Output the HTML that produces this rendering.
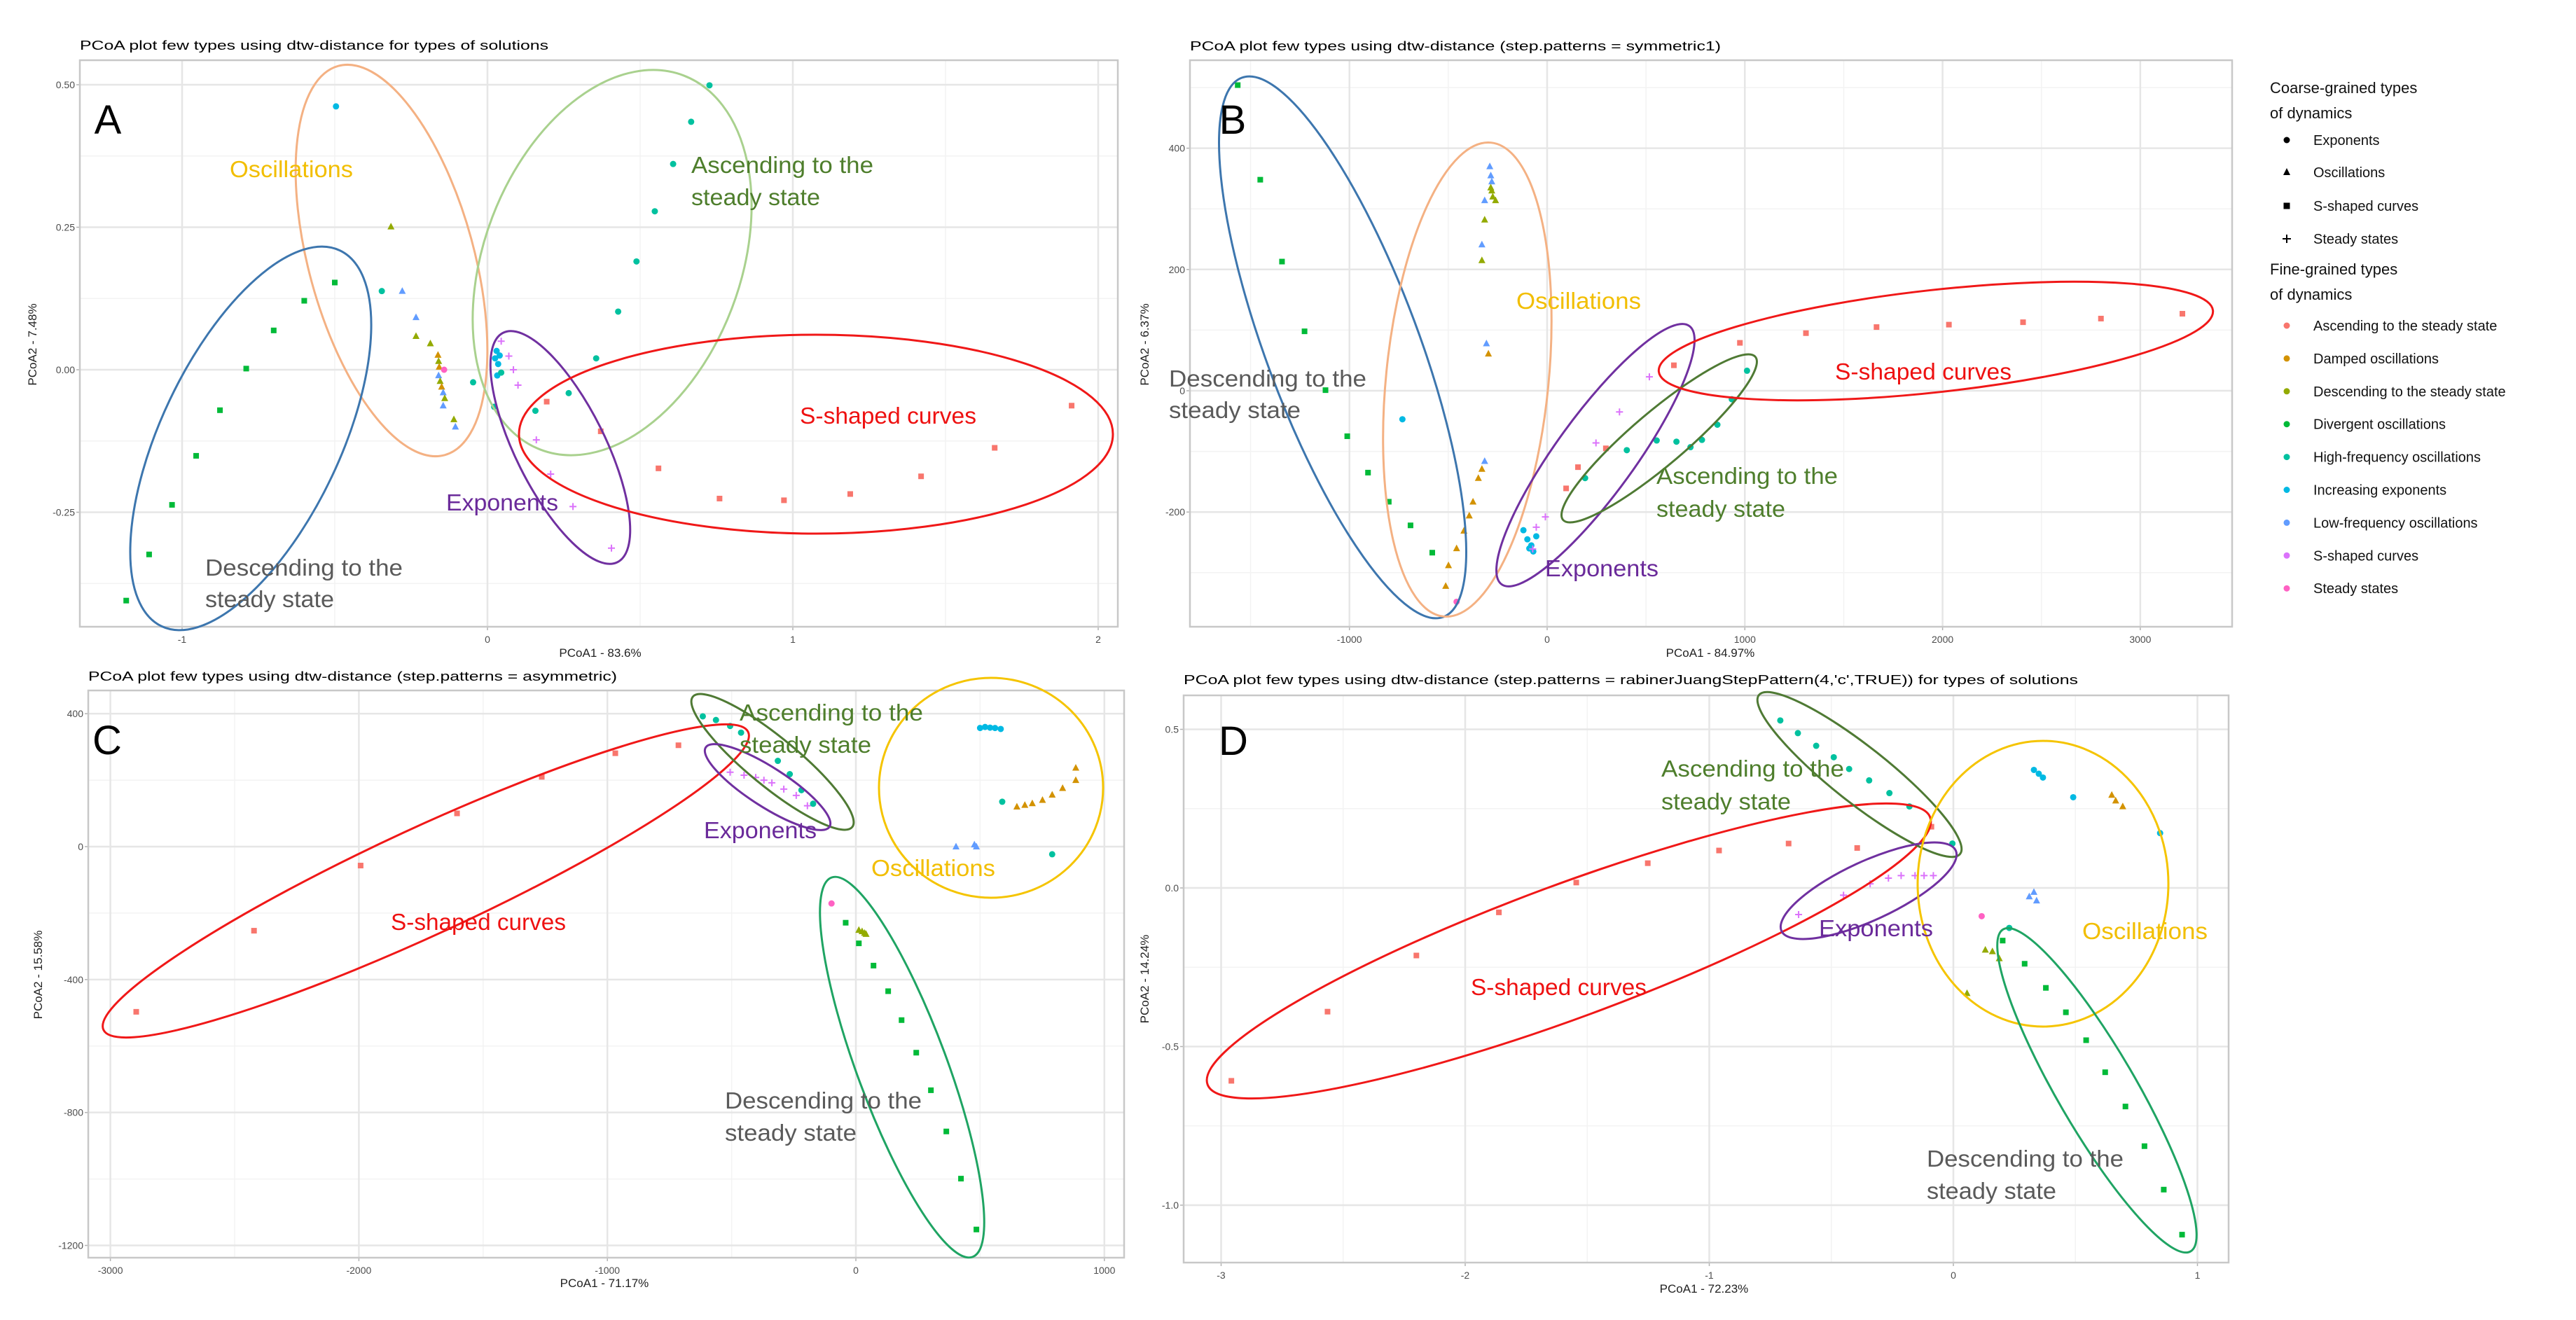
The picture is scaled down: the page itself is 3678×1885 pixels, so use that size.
<!DOCTYPE html>
<html><head><meta charset="utf-8"><style>
html,body{margin:0;padding:0;background:#fff;}
svg{display:block;font-family:"Liberation Sans",sans-serif;}
</style></head><body>
<svg id="fig" xmlns="http://www.w3.org/2000/svg" width="3678" height="1885" viewBox="0 0 3678 1885">
<rect x="0" y="0" width="3678" height="1885" fill="#fff"/>
</svg>
<script>
// ---- data ----
const catNames=["Ascending to the steady state","Damped oscillations","Descending to the steady state","Divergent oscillations","High-frequency oscillations","Increasing exponents","Low-frequency oscillations","S-shaped curves","Steady states"];
const catColors=["#F8766D","#D39200","#93AA00","#00BA38","#00C19F","#00B9E3","#619CFF","#DB72FB","#FF61C3"];
const coarseNames=["Exponents","Oscillations","S-shaped curves","Steady states"];

const aX=[-0.50,-0.60,-0.70,-0.79,-0.876,-0.954,-1.033,-1.108,-1.183,0.727,0.667,0.608,0.548,0.488,0.428,0.356,0.266,0.157,0.022,-0.047,-0.496,0.03,0.025,0.035,0.04,0.032,0.045,1.913,1.661,1.42,1.188,0.971,0.76,0.56,0.371,0.194,0.045,0.07,0.085,0.10,0.16,0.207,0.28,0.406,-0.316,-0.279,-0.346,-0.234,-0.234,-0.187,-0.162,-0.16,-0.158,-0.16,-0.155,-0.15,-0.145,-0.14,-0.145,-0.11,-0.105,-0.142];
const aY=[0.153,0.121,0.069,0.002,-0.071,-0.151,-0.237,-0.324,-0.405,0.499,0.435,0.361,0.278,0.19,0.102,0.02,-0.041,-0.072,-0.065,-0.022,0.462,0.033,0.02,0.01,0.025,-0.01,-0.005,-0.063,-0.137,-0.187,-0.218,-0.229,-0.226,-0.173,-0.108,-0.056,0.05,0.024,0,-0.027,-0.123,-0.183,-0.24,-0.313,0.251,0.138,0.138,0.092,0.059,0.046,0.026,0.015,0.005,-0.01,-0.02,-0.03,-0.04,-0.05,-0.063,-0.087,-0.1,0];
const aC=[3,3,3,3,3,3,3,3,3,4,4,4,4,4,4,4,4,4,4,4,5,5,5,5,5,5,4,0,0,0,0,0,0,0,0,0,7,7,7,7,7,7,7,7,2,6,4,6,2,2,1,2,1,6,2,1,6,2,6,2,6,8];

const bX=[-1565,-1451,-1341,-1227,-1121,-1011,-906,-801,-691,-581,-458,-513,-499,-458,-421,-394,-375,-348,-330,-297,-316,-307,-330,-316,-290,-285,-280,-330,-316,-261,-280,-275,-285,-732,-120,-100,-80,-70,-55,-90,192,403,554,654,725,783,861,934,1011,3213,2801,2407,2032,1666,1309,975,641,297,156,96,517,366,247,-9,-55,-73];
const bY=[504,348,213,98,1,-75,-135,-183,-222,-267,-348,-322,-288,-260,-231,-206,-183,-144,-129,61,-116,78,241,314,370,355,345,215,282,314,330,320,335,-47,-230,-245,-255,-265,-240,-260,-144,-98,-82,-84,-93,-81,-56,-14,33,127,119,113,109,105,95,79,42,-95,-126,-161,23,-35,-86,-208,-225,-261];
const bC=[3,3,3,3,3,3,3,3,3,3,8,1,1,1,1,1,1,1,1,1,6,6,6,6,6,6,6,2,2,2,2,2,2,5,5,5,5,5,5,5,4,4,4,4,4,4,4,4,4,0,0,0,0,0,0,0,0,0,0,0,7,7,7,7,7,7];

const cX=[-2896,-2422,-1993,-1605,-1264,-968,-714,-506,-403,-338,-290,-240,-195,-450,-370,-616,-563,-506,-462,-314,-266,-219,-172,500,520,540,560,583,648,680,710,751,790,832,885,885,589,790,403,477,485,-41,12,71,130,184,243,302,364,423,485,-98,12,25,35,41];
const cY=[-497,-253,-57,100,210,281,305,224,208,192,173,154,123,215,200,392,381,363,343,258,218,170,129,357,360,358,357,354,120,125,130,140,156,176,200,237,135,-23,0,6,0,-229,-291,-358,-435,-522,-620,-733,-857,-999,-1152,-171,-251,-255,-260,-263];
const cC=[0,0,0,0,0,0,0,7,7,7,7,7,7,7,7,4,4,4,4,4,4,4,4,5,5,5,5,5,1,1,1,1,1,1,1,1,4,4,6,6,6,3,3,3,3,3,3,3,3,3,3,8,2,2,2,2];

const dX=[-2.958,-2.564,-2.2,-1.862,-1.545,-1.252,-0.96,-0.675,-0.394,-0.09,-0.709,-0.637,-0.562,-0.49,-0.427,-0.345,-0.262,-0.18,-0.004,-0.634,-0.45,-0.341,-0.266,-0.214,-0.157,-0.12,-0.082,0.33,0.35,0.367,0.491,0.847,0.649,0.665,0.694,0.311,0.33,0.341,0.116,0.229,0.131,0.16,0.188,0.056,0.202,0.292,0.379,0.461,0.544,0.622,0.705,0.783,0.862,0.937];
const dY=[-0.608,-0.39,-0.213,-0.077,0.017,0.078,0.118,0.14,0.126,0.193,0.528,0.488,0.448,0.412,0.375,0.339,0.299,0.257,0.14,-0.084,-0.023,0.013,0.031,0.039,0.039,0.039,0.039,0.372,0.36,0.348,0.286,0.173,0.293,0.275,0.257,-0.027,-0.013,-0.04,-0.089,-0.126,-0.195,-0.2,-0.222,-0.332,-0.166,-0.239,-0.315,-0.392,-0.48,-0.581,-0.689,-0.814,-0.951,-1.093];
const dC=[0,0,0,0,0,0,0,0,0,0,4,4,4,4,4,4,4,4,4,7,7,7,7,7,7,7,7,5,5,5,5,5,1,1,1,6,6,6,8,4,2,2,2,2,3,3,3,3,3,3,3,3,3,3];

const aXTicks=[-1,0,1,2], aXLabels=["-1","0","1","2"], aXMinor=[-0.5,0.5,1.5];
const aYTicks=[0.5,0.25,0,-0.25], aYLabels=["0.50","0.25","0.00","-0.25"], aYMinor=[0.375,0.125,-0.125,-0.375];
const bXTicks=[-1000,0,1000,2000,3000], bXLabels=["-1000","0","1000","2000","3000"], bXMinor=[-1500,-500,500,1500,2500];
const bYTicks=[400,200,0,-200], bYLabels=["400","200","0","-200"], bYMinor=[500,300,100,-100,-300];
const cXTicks=[-3000,-2000,-1000,0,1000], cXLabels=["-3000","-2000","-1000","0","1000"], cXMinor=[-2500,-1500,-500,500];
const cYTicks=[400,0,-400,-800,-1200], cYLabels=["400","0","-400","-800","-1200"], cYMinor=[200,-200,-600,-1000];
const dXTicks=[-3,-2,-1,0,1], dXLabels=["-3","-2","-1","0","1"], dXMinor=[-2.5,-1.5,-0.5,0.5];
const dYTicks=[0.5,0,-0.5,-1], dYLabels=["0.5","0.0","-0.5","-1.0"], dYMinor=[0.25,-0.25,-0.75];

// ---- drawing ----
const NS="http://www.w3.org/2000/svg";
const svg=document.getElementById('fig');
function mk(tag,attrs,parent){const e=document.createElementNS(NS,tag);for(const k in attrs)e.setAttribute(k,attrs[k]);(parent||svg).appendChild(e);return e;}
const shapeOf=[2,1,1,2,0,0,1,3,0];

function panel(p){
  const g=mk('g',{});
  
  
  const [x0,y0,x1,y1]=p.rect;
  const sx=v=>p.xo+p.xk*v, sy=v=>p.yo-p.yk*v;
  const t=mk('text',{x:x0,y:p.titleY,'font-size':18,fill:'#000',textLength:p.titleW,lengthAdjust:'spacingAndGlyphs'},g);
  t.textContent=p.title;
  
  
  mk('rect',{x:x0,y:y0,width:x1-x0,height:y1-y0,fill:'#fff'},g);
  p.xMinor.forEach(v=>mk('line',{x1:sx(v),x2:sx(v),y1:y0,y2:y1,stroke:'#f3f3f3','stroke-width':1.5},g));
  p.yMinor.forEach(v=>mk('line',{y1:sy(v),y2:sy(v),x1:x0,x2:x1,stroke:'#f3f3f3','stroke-width':1.5},g));
  p.xTicks.forEach((v,i)=>{
    mk('line',{x1:sx(v),x2:sx(v),y1:y0,y2:y1,stroke:'#e6e6e6','stroke-width':2.5},g);
    mk('line',{x1:sx(v),x2:sx(v),y1:y1,y2:y1+5,stroke:'#b3b3b3','stroke-width':1.5},g);
    const l=mk('text',{x:sx(v),y:y1+23,'font-size':14,fill:'#4d4d4d','text-anchor':'middle'},g);l.textContent=p.xLabels[i];
    
    
  });
  p.yTicks.forEach((v,i)=>{
    mk('line',{y1:sy(v),y2:sy(v),x1:x0,x2:x1,stroke:'#e6e6e6','stroke-width':2.5},g);
    mk('line',{y1:sy(v),y2:sy(v),x1:x0-5,x2:x0,stroke:'#b3b3b3','stroke-width':1.5},g);
    const l=mk('text',{x:x0-7,y:sy(v)+5,'font-size':14,fill:'#4d4d4d','text-anchor':'end'},g);l.textContent=p.yLabels[i];
    
    
  });
  mk('rect',{x:x0,y:y0,width:x1-x0,height:y1-y0,fill:'none',stroke:'#c8c8c8','stroke-width':2.5},g);
  const xt=mk('text',{x:p.xtX,y:p.xtY,'font-size':17,fill:'#222','text-anchor':'middle'},g);xt.textContent=p.xTitle;
  
  
  const yt=mk('text',{x:p.ytX,y:p.ytY,'font-size':17,fill:'#222','text-anchor':'middle',transform:`rotate(-90 ${p.ytX} ${p.ytY})`},g);yt.textContent=p.yTitle;
  
  
  // points
  p.X.forEach((v,i)=>{
    const px=sx(v), py=sy(p.Y[i]), c=catColors[p.C[i]], s=shapeOf[p.C[i]];
    let e;
    if(s===0) e=mk('circle',{cx:px,cy:py,r:4.5,fill:c},g);
    else if(s===1) e=mk('polygon',{points:`${px},${py-5.5} ${px-5},${py+4} ${px+5},${py+4}`,fill:c},g);
    else if(s===2) e=mk('rect',{x:px-4,y:py-4,width:8,height:8,fill:c},g);
    else e=mk('path',{d:`M${px-5},${py}H${px+5}M${px},${py-5}V${py+5}`,stroke:c,'stroke-width':2},g);
    
    
  });
  // ellipses (annotations, pixel coords)
  p.ell.forEach(el=>{
    const e=mk('ellipse',{cx:el[0],cy:el[1],rx:el[2],ry:el[3],transform:`rotate(${el[4]} ${el[0]} ${el[1]})`,fill:'none',stroke:el[5],'stroke-width':el[6]||3},g);
    
    
  });
  p.lab.forEach(l=>{
    const e=mk('text',{x:l[0],y:l[1]+11,'font-size':33,fill:l[4],textLength:l[2]-l[0],lengthAdjust:'spacingAndGlyphs'},g);
    e.textContent=l[3];
    
    
  });
  const L=mk('text',{x:p.letter[0],y:p.letter[1]+20,'font-size':58,fill:'#000','text-anchor':'middle'},g);L.textContent=p.id;
  
  
}

const OR='#F4B183',BL='#3D76AE',LG='#A9D18E',PU='#7030A0',RD='#F01818',DG='#4F7A34',YE='#F5C400',TG='#1FA463';
const tOsc='#F2BE00',tGr='#4E7E2C',tRd='#EE1111',tPu='#6A2A9A',tGy='#5a5a5a';

panel({id:'A',rect:[114,86,1596,895],xo:696,xk:436,yo:528,yk:814,title:'PCoA plot few types using dtw-distance for types of solutions',titleY:71,titleW:669,
 xTicks:aXTicks,xLabels:aXLabels,xMinor:aXMinor,yTicks:aYTicks,yLabels:aYLabels,yMinor:aYMinor,
 xTitle:'PCoA1 - 83.6%',xtX:857,xtY:938,yTitle:'PCoA2 - 7.48%',ytX:52,ytY:492,X:aX,Y:aY,C:aC,letter:[154,171],
 ell:[[559,372,288,118,74.7,OR],[358,626,297,128,115.4,BL],[874,375,286,183,110.9,LG],[800,639,183,64,63.5,PU],[1165,620,424,142,0,RD]],
 lab:[[328,242,504,'Oscillations',tOsc],[987,236,1247,'Ascending to the',tGr],[987,282,1171,'steady state',tGr],[1142,594,1394,'S-shaped curves',tRd],[637,718,797,'Exponents',tPu],[293,811,575,'Descending to the',tGy],[293,856,477,'steady state',tGy]]});

panel({id:'B',rect:[1699,86,3187,895],xo:2209,xk:0.2823,yo:558,yk:0.866,title:'PCoA plot few types using dtw-distance (step.patterns = symmetric1)',titleY:72,titleW:758,
 xTicks:bXTicks,xLabels:bXLabels,xMinor:bXMinor,yTicks:bYTicks,yLabels:bYLabels,yMinor:bYMinor,
 xTitle:'PCoA1 - 84.97%',xtX:2442,xtY:938,yTitle:'PCoA2 - 6.37%',ytX:1640,ytY:492,X:bX,Y:bY,C:bC,letter:[1760,171],
 ell:[[1917,496,411,109,69.5,BL],[2095,542,340,116,95.7,OR],[2278,650,228,56,126,PU],[2369,626,180,38,139.7,DG],[2764,487,398,73,-6.3,RD]],
 lab:[[2165,430,2343,'Oscillations',tOsc],[1669,541,1951,'Descending to the',tGy],[1669,586,1857,'steady state',tGy],[2620,531,2872,'S-shaped curves',tRd],[2365,680,2624,'Ascending to the',tGr],[2365,727,2549,'steady state',tGr],[2206,812,2368,'Exponents',tPu]]});

panel({id:'C',rect:[126,986,1605,1796],xo:1222,xk:0.3548,yo:1209,yk:0.4746,title:'PCoA plot few types using dtw-distance (step.patterns = asymmetric)',titleY:972,titleW:755,
 xTicks:cXTicks,xLabels:cXLabels,xMinor:cXMinor,yTicks:cYTicks,yLabels:cYLabels,yMinor:cYMinor,
 xTitle:'PCoA1 - 71.17%',xtX:863,xtY:1838,yTitle:'PCoA2 - 15.58%',ytX:60,ytY:1392,X:cX,Y:cY,C:cC,letter:[153,1057],
 ell:[[608,1258,507,76,-24.8,RD],[1103,1088,147,35,39.3,DG],[1096,1124,105,28,32.7,PU],[1415,1125,160,157,0,YE],[1288,1524,289,64,69.6,TG]],
 lab:[[1056,1018,1318,'Ascending to the',tGr],[1056,1064,1244,'steady state',tGr],[1005,1186,1166,'Exponents',tPu],[1244,1240,1421,'Oscillations',tOsc],[558,1317,808,'S-shaped curves',tRd],[1035,1572,1316,'Descending to the',tGy],[1035,1618,1223,'steady state',tGy]]});

panel({id:'D',rect:[1690,993,3182,1803],xo:2789,xk:348.5,yo:1268,yk:453,title:"PCoA plot few types using dtw-distance (step.patterns = rabinerJuangStepPattern(4,'c',TRUE)) for types of solutions",titleY:977,titleW:1277,
 xTicks:dXTicks,xLabels:dXLabels,xMinor:dXMinor,yTicks:dYTicks,yLabels:dYLabels,yMinor:dYMinor,
 xTitle:'PCoA1 - 72.23%',xtX:2433,xtY:1846,yTitle:'PCoA2 - 14.24%',ytX:1640,ytY:1398,X:dX,Y:dY,C:dC,letter:[1761,1058],
 ell:[[2240,1358,550,95,-20.3,RD],[2655,1106,183,40,38.3,DG],[2668,1272,137,42,-24.8,PU],[2917,1262,179,204,0,YE],[2994,1557,266,56,59.8,TG]],
 lab:[[2372,1098,2633,'Ascending to the',tGr],[2372,1145,2557,'steady state',tGr],[2597,1326,2760,'Exponents',tPu],[2973,1330,3152,'Oscillations',tOsc],[2100,1410,2351,'S-shaped curves',tRd],[2751,1655,3032,'Descending to the',tGy],[2751,1701,2936,'steady state',tGy]]});

// legend
const lg=mk('g',{});


function ltext(x,y,s,fs){const e=mk('text',{x:x,y:y,'font-size':fs,fill:'#111'},lg);e.textContent=s;return e;}
ltext(3241,133,'Coarse-grained types',22);
ltext(3241,169,'of dynamics',22);
const coarseY=[200,246,294,341];
coarseNames.forEach((n,i)=>{
  const y=coarseY[i],x=3265;
  if(i===0) mk('circle',{cx:x,cy:y,r:4.5,fill:'#000'},lg);
  else if(i===1) mk('polygon',{points:`${x},${y-6} ${x-5},${y+4} ${x+5},${y+4}`,fill:'#000'},lg);
  else if(i===2) mk('rect',{x:x-4.5,y:y-4.5,width:9,height:9,fill:'#000'},lg);
  else mk('path',{d:`M${x-6},${y}H${x+6}M${x},${y-6}V${y+6}`,stroke:'#000','stroke-width':2},lg);
  const t=ltext(3303,y+7,n,20);
  
  
});
ltext(3241,392,'Fine-grained types',22);
ltext(3241,428,'of dynamics',22);
catNames.forEach((n,i)=>{
  const y=465+i*46.9;
  mk('circle',{cx:3265,cy:y,r:4.5,fill:catColors[i]},lg);
  const t=ltext(3303,y+7,n,20);
  
  
});
</script>
</body></html>
